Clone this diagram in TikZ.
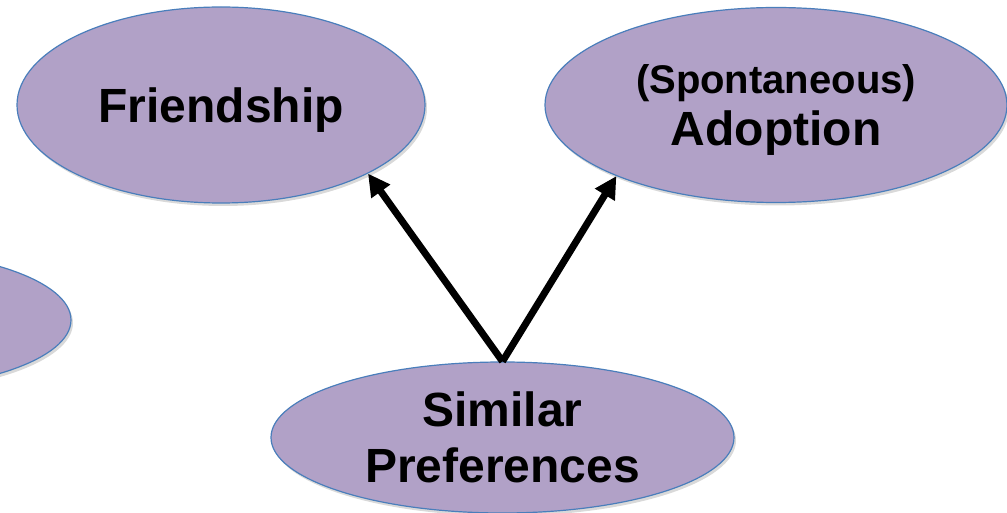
\documentclass[tikz,border=0pt]{standalone}
\usepackage{fontspec}
\setmainfont{Liberation Sans}
\usetikzlibrary{shapes.geometric, arrows.meta, shadows}
\definecolor{lilac}{RGB}{177,161,199}
\definecolor{rimBlue}{RGB}{74,126,187}

\tikzset{
	bubble/.style={ellipse, draw=rimBlue, line width=0.6pt, fill=lilac, inner sep=0pt, align=center,
		font=\bfseries\fontsize{24}{28}\selectfont,
		drop shadow={opacity=0.3, shadow xshift=1pt, shadow yshift=-1.5pt}},
	link/.style={line width=3.5pt, -{Triangle[length=11pt, width=11pt]}}
}

\begin{document}
\begin{tikzpicture}[x=0.5pt, y=-0.5pt]

	\useasboundingbox (0,0) rectangle (1007,513);
	\clip (0,0) rectangle (1007,513);

% Define coordinates.

	\coordinate (friendC) at (221,105);
	\coordinate (adoptC) at (776,105);
	\coordinate (prefC) at (502.5,437.5);
	\coordinate (spillC) at (-130,320);

% Draw ellipses.

	\node[bubble, text depth=0pt, minimum width=204pt, minimum height=98pt] (friend) at (friendC) {Friendship};
	\node[bubble, text depth=0pt, minimum width=231pt, minimum height=97.5pt] (adopt) at (adoptC)
		{{\fontsize{20}{22}\selectfont (Spontaneous)}\\[-2pt]Adoption};
	\node[bubble, minimum width=231.5pt, minimum height=75.5pt] (pref) at (prefC) {Similar\\Preferences};
	\node[bubble, minimum width=201pt, minimum height=70pt] (spill) at (spillC) {};

% Draw arrows.

	\draw[link] (pref.north) -- (friend.-25);
	\draw[link] (pref.north) -- (adopt.-156);

\end{tikzpicture}
\end{document}
